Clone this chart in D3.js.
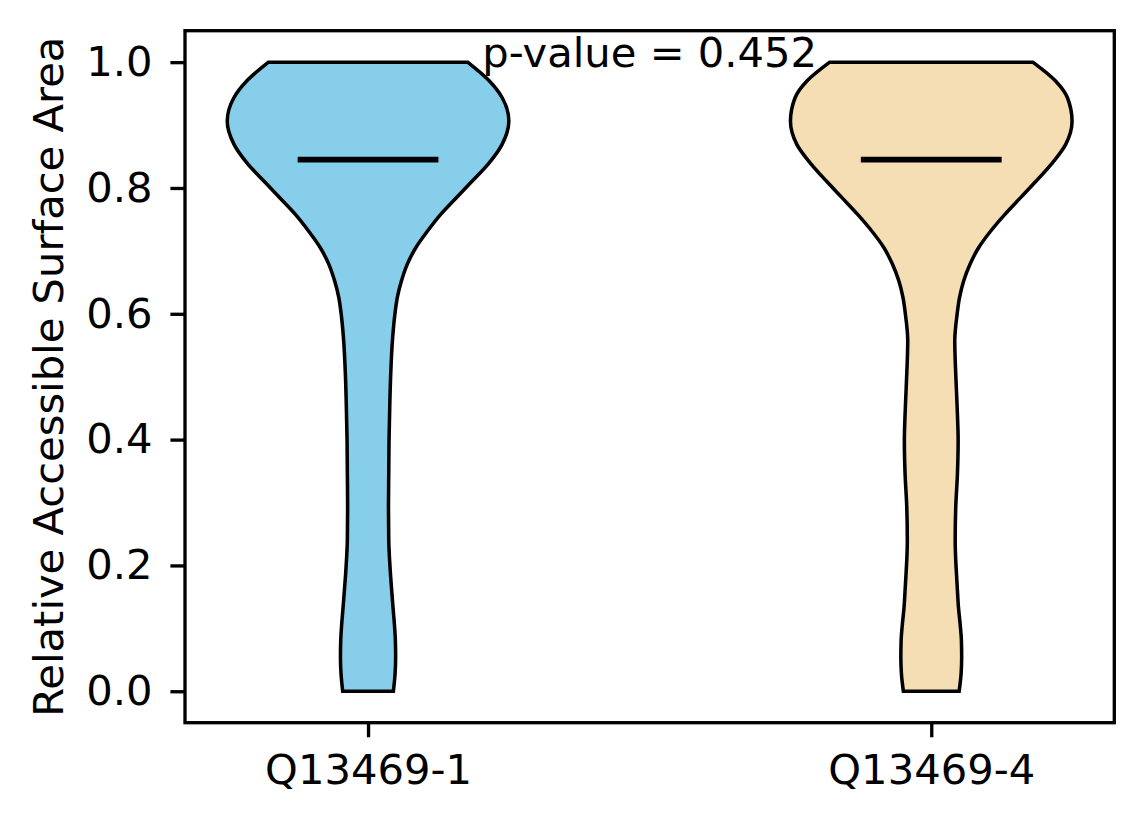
<!DOCTYPE html>
<html>
<head>
<meta charset="utf-8">
<script src="https://cdn.jsdelivr.net/npm/d3@7"></script>
<style>
  body { margin: 0; background: #fff; }
  text { font-family: "DejaVu Sans", sans-serif; }
</style>
</head>
<body>
<div id="chart"></div>
<script>
// categories and colours
var groups = ["Q13469-1", "Q13469-4"];
var groupColors = ["#87CEEB", "#F5DEB3"];
var yTicks = [0.0, 0.2, 0.4, 0.6, 0.8, 1.0];
var pValueText = "p-value = 0.452";
var yLabel = "Relative Accessible Surface Area";

// kde grid (relative surface area)
var kdeGrid = [0.0, 0.028, 0.054, 0.081, 0.107, 0.134, 0.160, 0.187, 0.213, 0.240,
  0.293, 0.346, 0.398, 0.451, 0.504, 0.557, 0.600, 0.626, 0.652, 0.679, 0.705,
  0.732, 0.758, 0.785, 0.811, 0.838, 0.869, 0.906, 0.943, 0.970, 1.0];

// normalised density (1 = widest point) for each violin
var density1 = [0.180, 0.192, 0.196, 0.194, 0.187, 0.177, 0.168, 0.159, 0.152, 0.147,
  0.145, 0.147, 0.149, 0.154, 0.161, 0.173, 0.191, 0.208, 0.237, 0.279, 0.339,
  0.424, 0.516, 0.629, 0.740, 0.853, 0.951, 1.0, 0.954, 0.862, 0.707];
var density4 = [0.198, 0.212, 0.216, 0.214, 0.205, 0.193, 0.186, 0.179, 0.173, 0.170,
  0.174, 0.186, 0.191, 0.184, 0.174, 0.167, 0.184, 0.201, 0.230, 0.276, 0.336,
  0.424, 0.523, 0.636, 0.745, 0.853, 0.954, 1.0, 0.968, 0.883, 0.721];

var medians = [0.845, 0.845];

var W = 1144, H = 824;
var margin = {top: 30.7, right: 29.7, bottom: 101.3, left: 185},
    width = W - margin.left - margin.right,
    height = H - margin.top - margin.bottom;

var pt = 300 / 72; // figure saved at 300 dpi
var fontSize = 10 * pt;

var svg = d3.select("#chart").append("svg")
    .attr("width", W)
    .attr("height", H);

var g = svg.append("g")
    .attr("transform", "translate(" + margin.left + "," + margin.top + ")");

// positions 1 and 2, matplotlib style margins
var x = d3.scaleLinear().domain([0.675, 2.325]).range([0, width]);
var y = d3.scaleLinear().domain([-0.05, 1.05]).range([height, 0]);

var violinWidth = 0.5;
var densities = [density1, density4];

groups.forEach(function(name, i) {
  var pos = i + 1;
  var pts = kdeGrid.map(function(v, j) { return {v: v, d: densities[i][j]}; });

  var area = d3.area()
      .y(function(d) { return y(d.v); })
      .x0(function(d) { return x(pos - d.d * violinWidth / 2); })
      .x1(function(d) { return x(pos + d.d * violinWidth / 2); })
      .curve(d3.curveMonotoneY);

  g.append("path")
      .datum(pts)
      .attr("d", area)
      .attr("fill", groupColors[i])
      .attr("stroke", "#000")
      .attr("stroke-width", 1 * pt * 0.85)
      .attr("stroke-linejoin", "miter");

  // median line
  g.append("line")
      .attr("x1", x(pos - violinWidth / 4))
      .attr("x2", x(pos + violinWidth / 4))
      .attr("y1", y(medians[i]))
      .attr("y2", y(medians[i]))
      .attr("stroke", "#000")
      .attr("stroke-width", 1.4 * pt);
});

// axes
var yAxis = d3.axisLeft(y)
    .tickValues(yTicks)
    .tickFormat(d3.format(".1f"))
    .tickSize(3.5 * pt)
    .tickPadding(4.3 * pt);

var xAxis = d3.axisBottom(x)
    .tickValues([1, 2])
    .tickFormat(function(d) { return groups[d - 1]; })
    .tickSize(3.5 * pt)
    .tickPadding(4.2 * pt);

var ya = g.append("g").call(yAxis);
var xa = g.append("g").attr("transform", "translate(0," + height + ")").call(xAxis);

[ya, xa].forEach(function(a) {
  a.select(".domain").remove();
  a.selectAll(".tick line").attr("stroke", "#000").attr("stroke-width", 0.8 * pt);
  a.selectAll(".tick text")
      .attr("fill", "#000")
      .style("font-size", fontSize + "px")
      .style("font-family", "'DejaVu Sans', sans-serif");
});

// frame
g.append("rect")
    .attr("width", width)
    .attr("height", height)
    .attr("fill", "none")
    .attr("stroke", "#000")
    .attr("stroke-width", 0.8 * pt);

// y label
svg.append("text")
    .attr("transform", "translate(63," + (margin.top + height / 2) + ") rotate(-90)")
    .attr("text-anchor", "middle")
    .style("font-size", fontSize + "px")
    .text(yLabel);

// p-value
g.append("text")
    .attr("x", x(1.5))
    .attr("y", y(0.992))
    .attr("text-anchor", "middle")
    .style("font-size", fontSize + "px")
    .text(pValueText);
</script>
</body>
</html>
